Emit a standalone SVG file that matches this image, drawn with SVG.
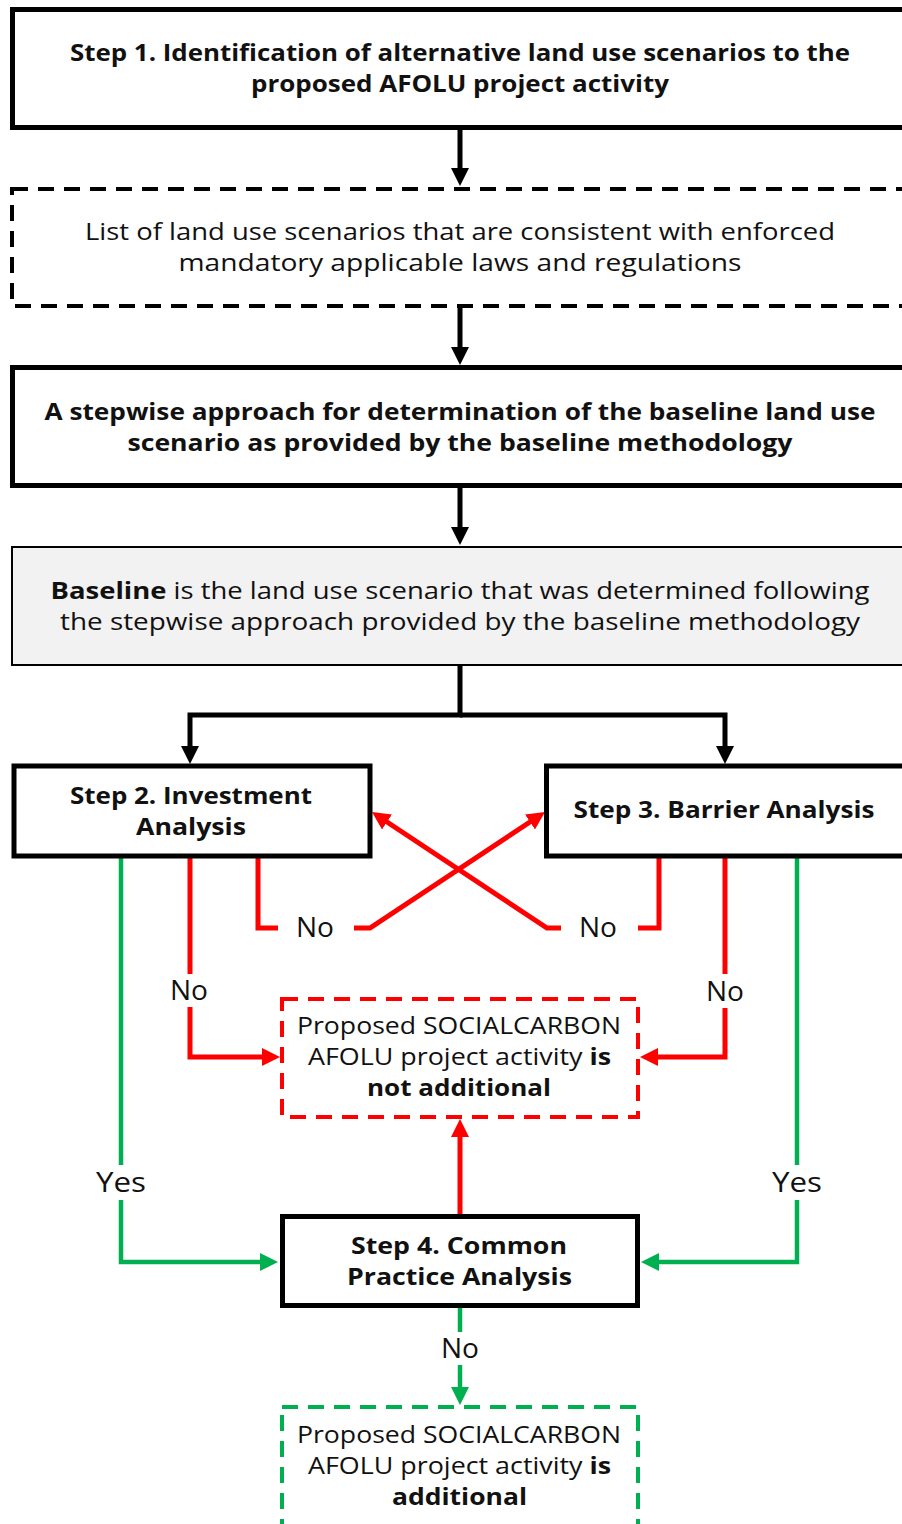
<svg xmlns="http://www.w3.org/2000/svg" width="902" height="1524" viewBox="0 0 902 1524">
<defs>
<style>
text{font-family:"Open Sans","Noto Sans","DejaVu Sans",sans-serif;font-size:24px;fill:#111;text-anchor:middle}
.b{font-weight:700}
.lbl{font-size:27px}
.box{fill:#fff;stroke:#000;stroke-width:5}
.dash{fill:#fff;stroke-width:4;stroke-dasharray:16 10}
.k{fill:none;stroke:#000;stroke-width:5}
.r{fill:none;stroke:#ff0000;stroke-width:5}
.g{fill:none;stroke:#00b050;stroke-width:4.5}
</style>
<marker id="ak" markerUnits="userSpaceOnUse" markerWidth="18" markerHeight="18" refX="9" refY="9" orient="auto"><path d="M0,0 L18,9 L0,18 z" fill="#000"/></marker>
<marker id="ar" markerUnits="userSpaceOnUse" markerWidth="18" markerHeight="18" refX="9" refY="9" orient="auto"><path d="M0,0 L18,9 L0,18 z" fill="#ff0000"/></marker>
<marker id="ag" markerUnits="userSpaceOnUse" markerWidth="18" markerHeight="18" refX="9" refY="9" orient="auto"><path d="M0,0 L18,9 L0,18 z" fill="#00b050"/></marker>
</defs>
<rect width="902" height="1524" fill="#fff"/>

<g id="connectors">
<line class="k" x1="460" y1="128" x2="460" y2="177" marker-end="url(#ak)"/>
<line class="k" x1="460" y1="307" x2="460" y2="356" marker-end="url(#ak)"/>
<line class="k" x1="460" y1="487" x2="460" y2="536" marker-end="url(#ak)"/>
<polyline class="k" points="460,666 460,715 190,715 190,755" marker-end="url(#ak)"/>
<polyline class="k" points="460,715 725,715 725,755" marker-end="url(#ak)"/>
<polyline class="r" points="258,858 258,928 278,928"/>
<polyline class="r" points="354,928 370,928 537.5,817" marker-end="url(#ar)"/>
<polyline class="r" points="659,858 659,928 638,928"/>
<polyline class="r" points="561,928 547,928 379.5,817" marker-end="url(#ar)"/>
<line class="r" x1="190" y1="858" x2="190" y2="974"/>
<polyline class="r" points="190,1007 190,1057 271,1057" marker-end="url(#ar)"/>
<line class="r" x1="725" y1="858" x2="725" y2="974"/>
<polyline class="r" points="725,1008 725,1057 649,1057" marker-end="url(#ar)"/>
<line class="r" x1="460" y1="1214" x2="460" y2="1128" marker-end="url(#ar)"/>
<line class="g" x1="121" y1="858" x2="121" y2="1165"/>
<polyline class="g" points="121,1200 121,1262 269,1262" marker-end="url(#ag)"/>
<line class="g" x1="797" y1="858" x2="797" y2="1165"/>
<polyline class="g" points="797,1200 797,1262 650,1262" marker-end="url(#ag)"/>
<line class="g" x1="460" y1="1308" x2="460" y2="1332"/>
<line class="g" x1="460" y1="1365" x2="460" y2="1396" marker-end="url(#ag)"/>
<text class="lbl" x="315" y="937" textLength="38" lengthAdjust="spacingAndGlyphs">No</text>
<text class="lbl" x="598" y="937" textLength="38" lengthAdjust="spacingAndGlyphs">No</text>
<text class="lbl" x="189" y="1000" textLength="38" lengthAdjust="spacingAndGlyphs">No</text>
<text class="lbl" x="725" y="1001" textLength="38" lengthAdjust="spacingAndGlyphs">No</text>
<text class="lbl" x="121" y="1192" textLength="50" lengthAdjust="spacingAndGlyphs">Yes</text>
<text class="lbl" x="797" y="1192" textLength="50" lengthAdjust="spacingAndGlyphs">Yes</text>
<text class="lbl" x="460" y="1358" textLength="38" lengthAdjust="spacingAndGlyphs">No</text>
</g>

<g id="step1">
<rect class="box" x="12.5" y="9.5" width="900" height="118"/>
<text class="b" x="460" y="61" textLength="780" lengthAdjust="spacingAndGlyphs">Step 1. Identification of alternative land use scenarios to the</text>
<text class="b" x="460" y="92" textLength="418" lengthAdjust="spacingAndGlyphs">proposed AFOLU project activity</text>
</g>

<g id="list">
<rect class="dash" x="12" y="189" width="900" height="117" stroke="#000"/>
<text x="460" y="240" textLength="750" lengthAdjust="spacingAndGlyphs">List of land use scenarios that are consistent with enforced</text>
<text x="460" y="271" textLength="563" lengthAdjust="spacingAndGlyphs">mandatory applicable laws and regulations</text>
</g>

<g id="stepwise">
<rect class="box" x="12.5" y="367.5" width="900" height="118"/>
<text class="b" x="460" y="420" textLength="831" lengthAdjust="spacingAndGlyphs">A stepwise approach for determination of the baseline land use</text>
<text class="b" x="460" y="451" textLength="665" lengthAdjust="spacingAndGlyphs">scenario as provided by the baseline methodology</text>
</g>

<g id="baseline">
<rect x="12" y="547" width="900" height="118" fill="#f2f2f2" stroke="#000" stroke-width="2"/>
<text x="460" y="599" textLength="819" lengthAdjust="spacingAndGlyphs"><tspan class="b">Baseline</tspan> is the land use scenario that was determined following</text>
<text x="460" y="630" textLength="800" lengthAdjust="spacingAndGlyphs">the stepwise approach provided by the baseline methodology</text>
</g>

<g id="step2">
<rect class="box" x="14" y="766" width="356" height="90"/>
<text class="b" x="191" y="804" textLength="242" lengthAdjust="spacingAndGlyphs">Step 2. Investment</text>
<text class="b" x="191" y="835" textLength="110" lengthAdjust="spacingAndGlyphs">Analysis</text>
</g>

<g id="step3">
<rect class="box" x="546.5" y="766" width="360" height="90"/>
<text class="b" x="724" y="818" textLength="301" lengthAdjust="spacingAndGlyphs">Step 3. Barrier Analysis</text>
</g>

<g id="not-additional">
<rect class="dash" x="282" y="999" width="356" height="118" stroke="#ff0000"/>
<text x="459" y="1034" textLength="324" lengthAdjust="spacingAndGlyphs">Proposed SOCIALCARBON</text>
<text x="459.5" y="1065" textLength="303" lengthAdjust="spacingAndGlyphs">AFOLU project activity <tspan class="b">is</tspan></text>
<text class="b" x="459" y="1096" textLength="184" lengthAdjust="spacingAndGlyphs">not additional</text>
</g>

<g id="step4">
<rect class="box" x="282.5" y="1216.5" width="355" height="89"/>
<text class="b" x="459" y="1254" textLength="216" lengthAdjust="spacingAndGlyphs">Step 4. Common</text>
<text class="b" x="459.5" y="1285" textLength="225" lengthAdjust="spacingAndGlyphs">Practice Analysis</text>
</g>

<g id="additional">
<rect class="dash" x="282" y="1407" width="356" height="150" stroke="#00b050"/>
<text x="459" y="1443" textLength="324" lengthAdjust="spacingAndGlyphs">Proposed SOCIALCARBON</text>
<text x="459.5" y="1474" textLength="303" lengthAdjust="spacingAndGlyphs">AFOLU project activity <tspan class="b">is</tspan></text>
<text class="b" x="459.5" y="1505" textLength="135" lengthAdjust="spacingAndGlyphs">additional</text>
</g>
</svg>
